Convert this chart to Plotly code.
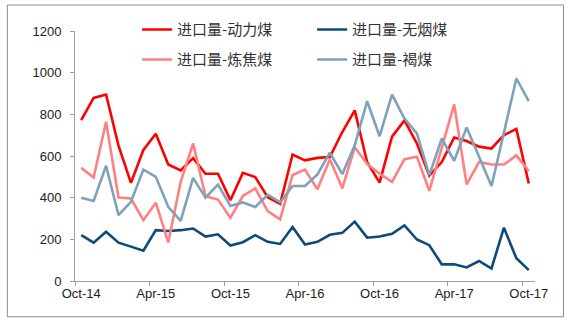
import plotly.graph_objects as go

months = ["Oct-14", "Nov-14", "Dec-14", "Jan-15", "Feb-15", "Mar-15", "Apr-15", "May-15",
          "Jun-15", "Jul-15", "Aug-15", "Sep-15", "Oct-15", "Nov-15", "Dec-15", "Jan-16",
          "Feb-16", "Mar-16", "Apr-16", "May-16", "Jun-16", "Jul-16", "Aug-16", "Sep-16",
          "Oct-16", "Nov-16", "Dec-16", "Jan-17", "Feb-17", "Mar-17", "Apr-17", "May-17",
          "Jun-17", "Jul-17", "Aug-17", "Sep-17", "Oct-17"]

steam_coal = [772, 879, 895, 650, 471, 629, 707, 559, 531, 590, 515, 515, 388, 519, 499, 402,
              370, 607, 579, 591, 595, 715, 819, 570, 472, 693, 771, 660, 506, 571, 689, 672,
              645, 636, 700, 730, 468]
anthracite = [220, 184, 236, 184, 165, 145, 244, 240, 244, 252, 213, 224, 170, 186, 220, 188,
              178, 259, 175, 188, 222, 231, 285, 208, 214, 227, 267, 199, 172, 80, 80, 65,
              96, 60, 256, 109, 52]
coking_coal = [543, 497, 764, 401, 396, 292, 376, 185, 476, 660, 407, 391, 303, 408, 445, 336,
               296, 509, 535, 440, 584, 445, 642, 562, 515, 476, 585, 596, 433, 640, 848, 464,
               571, 559, 559, 603, 528]
lignite = [400, 384, 553, 316, 380, 535, 500, 356, 289, 495, 400, 463, 360, 377, 355, 414,
           378, 456, 456, 512, 616, 513, 651, 863, 695, 895, 780, 708, 508, 684, 577, 737,
           596, 456, 712, 972, 863]

series = [
    ("进口量-动力煤", steam_coal, "#FF0000", "legend"),
    ("进口量-无烟煤", anthracite, "#0E4A78", "legend"),
    ("进口量-炼焦煤", coking_coal, "#FF8080", "legend2"),
    ("进口量-褐煤", lignite, "#7FA2BC", "legend2"),
]

fig = go.Figure()
for name, vals, color, lg in series:
    fig.add_trace(go.Scatter(x=months, y=vals, mode="lines", name=name,
                             line=dict(color=color, width=2.6), legend=lg))

axis_color = "#A0A0A0"
legend_common = dict(orientation="h", bgcolor="rgba(0,0,0,0)",
                     font=dict(family="Noto Sans CJK SC", size=15, color="#333333"),
                     entrywidth=130, entrywidthmode="pixels",
                     xanchor="left", yanchor="middle", itemwidth=30)

fig.update_layout(
    width=570, height=323,
    margin=dict(l=75, r=35, t=31, b=42),
    paper_bgcolor="white", plot_bgcolor="white",
    font=dict(family="Liberation Sans, Arial", size=13, color="#222222"),
    legend=dict(x=0.135, y=1.005, **legend_common),
    legend2=dict(x=0.135, y=0.885, **legend_common),
    xaxis=dict(type="category", range=[-0.5, 36.5], dtick=6, tick0=0, tickangle=0,
               tickson="boundaries", ticks="outside", ticklen=4, tickcolor=axis_color,
               showline=True, linecolor=axis_color, linewidth=1, showgrid=False,
               tickfont=dict(size=13, color="#222222")),
    yaxis=dict(range=[0, 1200], dtick=200, ticks="outside", ticklen=4,
               tickcolor=axis_color, showline=True, linecolor=axis_color, linewidth=1,
               showgrid=False, zeroline=False, ticklabelstandoff=6,
               tickfont=dict(size=13, color="#222222")),
    shapes=[dict(type="rect", xref="paper", yref="paper", x0=-0.147, x1=1.062,
                 y0=-0.143, y1=1.104, line=dict(color="#8C8C8C", width=1))],
)

fig.write_html("out.html")
